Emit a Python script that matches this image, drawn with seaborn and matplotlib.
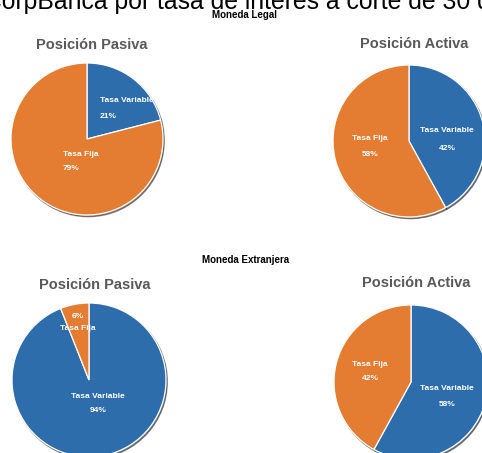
import matplotlib
matplotlib.use("Agg")
import matplotlib.pyplot as plt
import seaborn as sns

# data
categories = ["Tasa Variable", "Tasa Fija"]
legal_pasiva = [21, 79]
legal_activa = [42, 58]
extranjera_pasiva = [94, 6]
extranjera_activa = [58, 42]

sns.set_theme(style="white")
plt.rcParams["font.family"] = ["Liberation Sans", "DejaVu Sans"]

colors = ["#2E6DAC", "#E47C32"]
W, H = 482, 453
fig = plt.figure(figsize=(W / 100, H / 100), dpi=100)


def px(x, y):
    return x / W, 1 - y / H


def draw_pie(values, cx, cy, r, title, title_xy, label_px):
    ax = fig.add_axes([(cx - r) / W, 1 - (cy + r) / H, 2 * r / W, 2 * r / H])
    ax.pie(values, colors=colors, startangle=90, counterclock=False,
           wedgeprops=dict(edgecolor="white", linewidth=0.9),
           shadow=dict(ox=0.012, oy=-0.016, shade=0.8))
    ax.set_xlim(-1, 1)
    ax.set_ylim(-1, 1)
    ax.set_aspect("equal")
    ax.axis("off")
    # labels, name and percentage under it
    for cat, val, (lx, ly, ha) in zip(categories, values, label_px):
        fig.text(*px(lx, ly[0]), cat, ha=ha, va="center", color="white",
                 fontsize=6, fontweight="bold")
        fig.text(*px(lx, ly[1]), f"{val}%", ha=ha,
                 va="center", color="white", fontsize=6, fontweight="bold")
    fig.text(*px(*title_xy), title, ha="center", va="center", color="#595959",
             fontsize=10.5, fontweight="bold")


# main title, cut by the top edge in the original screenshot
fig.text(*px(-16, 9), "CorpBanca por tasa de interés a corte de 30 de junio",
         ha="left", va="baseline", fontsize=17.8, color="black")
fig.text(*px(245, 15), "Moneda Legal", ha="center", va="center",
         fontsize=7, fontweight="bold", color="black")
fig.text(*px(246, 260), "Moneda Extranjera", ha="center", va="center",
         fontsize=7, fontweight="bold", color="black")

draw_pie(legal_pasiva, 87, 139, 76, "Posición Pasiva", (92, 45),
         [(100, (101, 117), "left"), (63, (154, 168), "left")])
draw_pie(legal_activa, 409, 141, 76, "Posición Activa", (414, 44),
         [(447, (131, 148), "center"), (370, (138, 154), "center")])
draw_pie(extranjera_pasiva, 89, 380, 77, "Posición Pasiva", (95, 285),
         [(98, (396, 411), "center"), (78, (329, 317), "center")])
draw_pie(extranjera_activa, 411, 382, 77, "Posición Activa", (416, 283),
         [(447, (389, 405), "center"), (370, (364, 379), "center")])

fig.savefig("out.png", dpi=100)
